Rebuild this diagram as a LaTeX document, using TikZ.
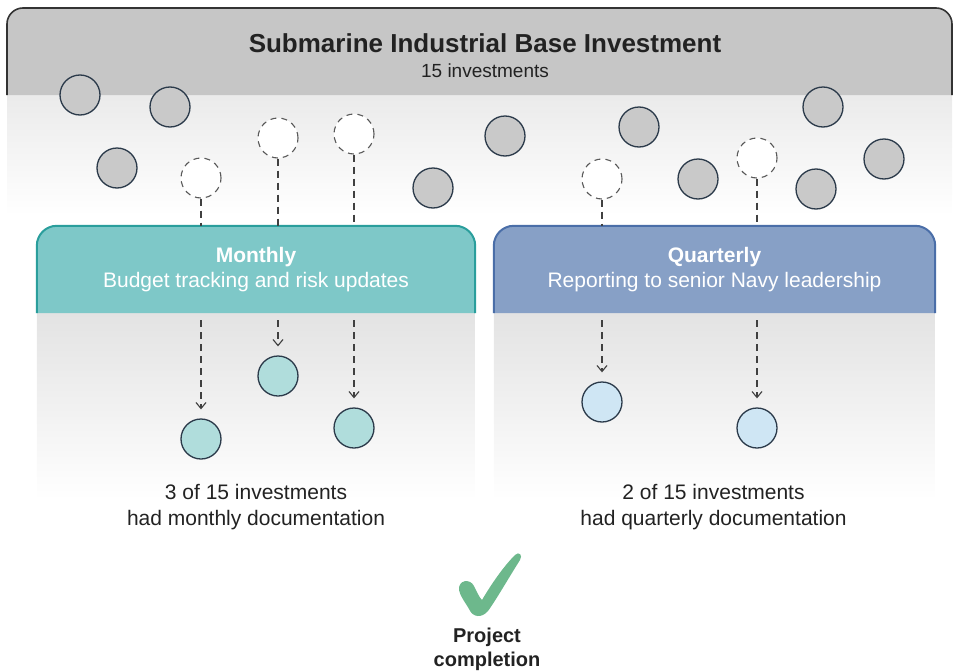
\documentclass[tikz,border=0pt]{standalone}
\usepackage{fontspec}
\setmainfont{Liberation Sans}
\usepackage{tikz}
\usetikzlibrary{arrows.meta, positioning}

\definecolor{ink}{HTML}{222222}
\definecolor{frameline}{HTML}{333333}
\definecolor{headgray}{HTML}{C6C6C6}
\definecolor{dotgray}{HTML}{C9C9C9}
\definecolor{dotline}{HTML}{2B3A4A}
\definecolor{mfill}{HTML}{7EC8C8}
\definecolor{mline}{HTML}{2A9E9C}
\definecolor{qfill}{HTML}{87A0C6}
\definecolor{qline}{HTML}{4A6EA8}
\definecolor{tealdot}{HTML}{B0DDDC}
\definecolor{bluedot}{HTML}{CFE6F4}
\definecolor{checkgreen}{HTML}{6DB88C}

\begin{document}
\begin{tikzpicture}[x=1pt, y=-1pt]

        % Define styles
        \tikzstyle{invest} = [circle, draw=dotline, line width=1.3pt, fill=dotgray, minimum size=40pt, inner sep=0pt]
        \tikzstyle{pending} = [circle, draw=black!65, line width=1.1pt, dash pattern=on 6pt off 5pt, fill=white, minimum size=40pt, inner sep=0pt]
        \tikzstyle{mdone} = [invest, fill=tealdot]
        \tikzstyle{qdone} = [invest, fill=bluedot]
        \tikzstyle{link} = [draw=black!75, line width=1.1pt, dash pattern=on 7pt off 5pt]
        \tikzstyle{drop} = [link, -{Straight Barb[length=6pt, width=10pt]}, shorten >=9pt]
        \tikzstyle{band} = [rectangle, minimum width=438pt, minimum height=87pt, inner sep=0pt]
        \tikzstyle{bandtext} = [align=center, text=white, font=\fontsize{21}{25}\selectfont]
        \tikzstyle{caption} = [align=center, text=ink, font=\fontsize{21}{26}\selectfont]

        \useasboundingbox (0,0) rectangle (954,672);

        % Header
        \shade [top color=black!8, bottom color=white] (7,95) rectangle (952,215);
        \path [fill=headgray, draw=frameline, line width=1.6pt, rounded corners=16pt] (7,95) -- (7,8) -- (952,8) -- (952,95);
        \node [text=ink, font=\bfseries\fontsize{26}{30}\selectfont] (title) at (485,43) {Submarine Industrial Base Investment};
        \node [text=ink, font=\fontsize{19}{22}\selectfont, below=4pt of title] (subtitle) {15 investments};

        % Bands
        \node [band] (monthly) at (256,269.5) {};
        \node [band, minimum width=441pt] (quarterly) at (714.5,269.5) {};
        \shade [top color=black!11, bottom color=white] (monthly.south west) rectangle ++(438,187);
        \shade [top color=black!11, bottom color=white] (quarterly.south west) rectangle ++(441,187);
        \path [fill=mfill, draw=mline, line width=2pt, rounded corners=20pt] (monthly.south west) -- (monthly.north west) -- (monthly.north east) -- (monthly.south east);
        \path [fill=qfill, draw=qline, line width=2pt, rounded corners=20pt] (quarterly.south west) -- (quarterly.north west) -- (quarterly.north east) -- (quarterly.south east);
        \node [bandtext] at (monthly) {\textbf{Monthly}\\Budget tracking and risk updates};
        \node [bandtext] at (quarterly) {\textbf{Quarterly}\\Reporting to senior Navy leadership};

        % Place investments
        \node [invest] (g1) at (80,95) {};
        \node [invest] (g2) at (170,107) {};
        \node [invest] (g3) at (117,168) {};
        \node [invest] (g4) at (433,188) {};
        \node [invest] (g5) at (505,136) {};
        \node [invest] (g6) at (639,127) {};
        \node [invest] (g7) at (698,179) {};
        \node [invest] (g8) at (823,107) {};
        \node [invest] (g9) at (816,189) {};
        \node [invest] (g10) at (884,159) {};
        \node [pending] (m1) at (201,178) {};
        \node [pending] (m2) at (278,138) {};
        \node [pending] (m3) at (354,134) {};
        \node [pending] (q1) at (602,179) {};
        \node [pending] (q2) at (757,158) {};

        % Documented investments
        \node [mdone] (m1done) at (201,439) {};
        \node [mdone] (m2done) at (278,376) {};
        \node [mdone] (m3done) at (354,428) {};
        \node [qdone] (q1done) at (602,402) {};
        \node [qdone] (q2done) at (757,428) {};

        % Draw edges
        \path [link] (m1.south) -- (m1 |- monthly.north);
        \path [link] (m2.south) -- (m2 |- monthly.north);
        \path [link] (m3.south) -- (m3 |- monthly.north);
        \path [link] (q1.south) -- (q1 |- quarterly.north);
        \path [link] (q2.south) -- (q2 |- quarterly.north);

        \coordinate (m1in) at (m1 |- 0,320);
        \coordinate (m2in) at (m2 |- 0,320);
        \coordinate (m3in) at (m3 |- 0,320);
        \coordinate (q1in) at (q1 |- 0,320);
        \coordinate (q2in) at (q2 |- 0,320);
        \draw [drop] (m1in) -- (m1done);
        \draw [drop] (m2in) -- (m2done);
        \draw [drop] (m3in) -- (m3done);
        \draw [drop] (q1in) -- (q1done);
        \draw [drop] (q2in) -- (q2done);

        % Counts
        \node [caption] (mcount) at (256,507) {3 of 15 investments\\had monthly documentation};
        \node [caption] (qcount) at (713.5,507) {2 of 15 investments\\had quarterly documentation};

        % Completion
        \fill [checkgreen] (459,590) .. controls (458,580) and (470,578) .. (474,586)
            .. controls (477,592) and (479,597) .. (482,600)
            .. controls (492,583) and (504,566) .. (515,555)
            .. controls (519,551) and (523,555) .. (520,560)
            .. controls (508,579) and (496,600) .. (488,611)
            .. controls (482,618) and (473,618) .. (469,609)
            .. controls (465,602) and (460,596) .. (459,590) -- cycle;
        \coordinate (check) at (487,623);
        \node [text=ink, align=center, font=\bfseries\fontsize{20}{24}\selectfont, below=1pt of check] (done) {Project\\completion};

\end{tikzpicture}
\end{document}
